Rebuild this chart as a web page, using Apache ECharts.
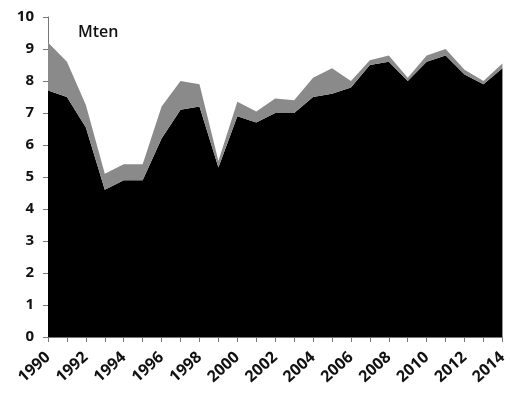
<!DOCTYPE html>
<html><head><meta charset="utf-8">
<script src="https://cdn.jsdelivr.net/npm/echarts@6/dist/echarts.min.js"></script>
<style>html,body{margin:0;padding:0;background:#fff}#c{width:510px;height:403px}</style>
</head><body><div id="c"></div>
<script>
const years = ["1990","1991","1992","1993","1994","1995","1996","1997","1998","1999","2000","2001","2002","2003","2004","2005","2006","2007","2008","2009","2010","2011","2012","2013","2014"];
const lower = [7.7,7.5,6.55,4.6,4.9,4.9,6.2,7.1,7.2,5.3,6.9,6.7,7.0,7.0,7.5,7.6,7.8,8.5,8.6,8.0,8.6,8.8,8.2,7.9,8.4];
const upper = [1.5,1.1,0.7,0.5,0.5,0.5,1.0,0.9,0.7,0.2,0.45,0.35,0.45,0.4,0.6,0.8,0.2,0.15,0.2,0.1,0.2,0.2,0.15,0.1,0.15];
const yTicks = [0,1,2,3,4,5,6,7,8,9,10];
const unitLabel = "Mten";

const font = "'Open Sans', 'Liberation Sans', sans-serif";
const chart = echarts.init(document.getElementById('c'), null, {renderer:'canvas'});
chart.setOption({
  animation:false,
  backgroundColor:'#fff',
  grid:{left:48,right:2,top:17,bottom:66,containLabel:false},
  graphic:[{type:'text',left:78,top:24,style:{text:unitLabel,font:"600 16px "+font,fill:'#111'}}],
  xAxis:{type:'category',data:years,boundaryGap:false,
    axisLine:{lineStyle:{color:'#777',width:1}},
    axisTick:{show:true,interval:0,length:5,lineStyle:{color:'#777'}},
    axisLabel:{interval:1,rotate:42,color:'#111',fontFamily:font,fontWeight:'bold',fontSize:16,margin:18},
    splitLine:{show:false}},
  yAxis:{type:'value',min:yTicks[0],max:yTicks[yTicks.length-1],interval:1,
    axisLine:{show:true,lineStyle:{color:'#777',width:1}},
    axisTick:{show:true,length:5,lineStyle:{color:'#777'}},
    axisLabel:{color:'#111',fontFamily:font,fontWeight:'bold',fontSize:15,margin:14},
    splitLine:{show:false}},
  series:[
    {name:'a',type:'line',stack:'t',data:lower,symbol:'none',lineStyle:{width:0},areaStyle:{color:'#000',opacity:1},itemStyle:{color:'#000'}},
    {name:'b',type:'line',stack:'t',data:upper,symbol:'none',lineStyle:{width:0},areaStyle:{color:'#8a8a8a',opacity:1},itemStyle:{color:'#8a8a8a'}}
  ]
});
</script></body></html>
